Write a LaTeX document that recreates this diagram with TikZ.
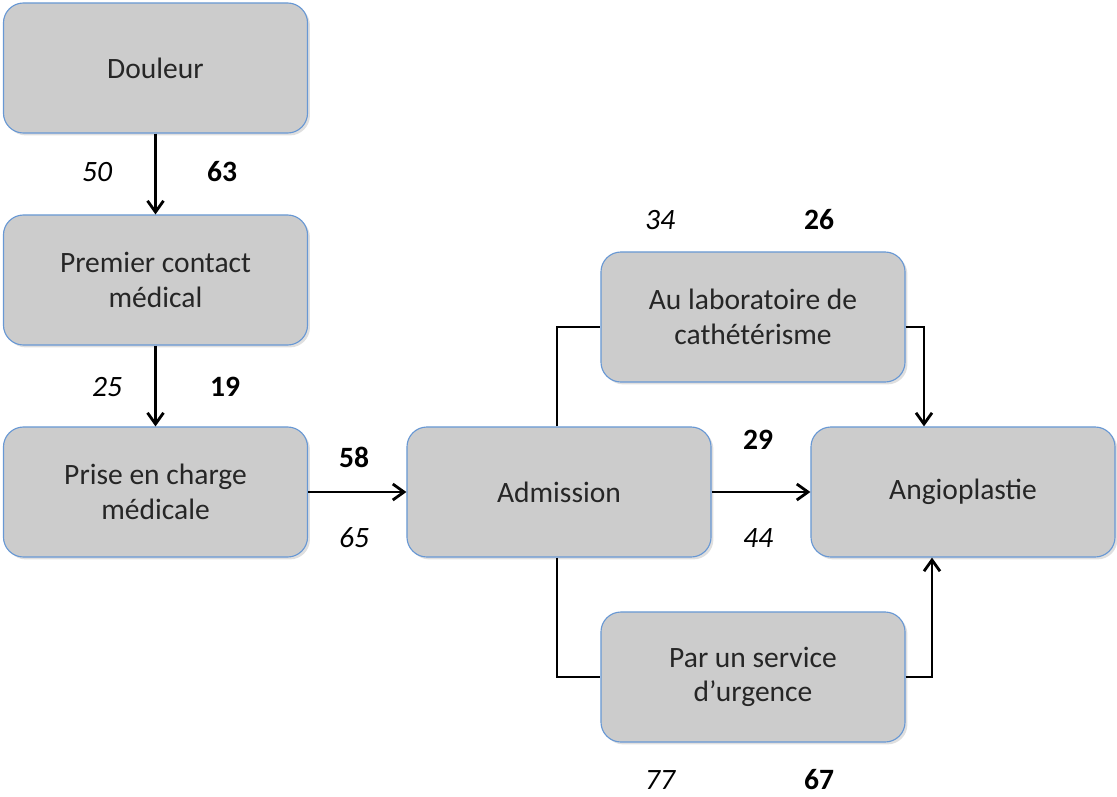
\documentclass[tikz,border=0pt]{standalone}
\usepackage{fontspec}
\setmainfont{Carlito}
\usepackage{tikz}
\usetikzlibrary{positioning}
\usetikzlibrary{shadows}
\usetikzlibrary{arrows.meta}
\definecolor{boxFill}{RGB}{204,204,204}
\definecolor{boxLine}{RGB}{104,152,212}
\definecolor{boxText}{RGB}{38,38,38}

\begin{document}
\begin{tikzpicture}[x=0.025cm,y=-0.025cm]

          \tikzstyle{stageNode} = [draw=boxLine, fill=boxFill, line width=0.8pt, rounded corners=0.5cm,
            minimum width=7.6cm, minimum height=3.25cm, align=center, text=boxText,
            font=\fontsize{21}{24.5}\selectfont,
            drop shadow={opacity=0.25, shadow xshift=0.06cm, shadow yshift=-0.06cm}];
          \tikzstyle{meanNum} = [font=\fontsize{21}{24.5}\selectfont\itshape];
          \tikzstyle{medianNum} = [font=\fontsize{21}{24.5}\selectfont\bfseries];

          \tikzstyle{flowEdge} = [line width=2pt, -{Straight Barb[length=0.28cm,width=0.4cm]}];
          \tikzstyle{plainEdge} = [line width=2pt];

          \useasboundingbox (0,0) rectangle (1117,796);

          \node[stageNode] (douleur) at (155.5,68) {Douleur};
          \node[stageNode] (contact) at (155.5,280) {Premier contact\\médical};
          \node[stageNode] (prise) at (155.5,492) {Prise en charge\\médicale};
          \node[stageNode] (admission) at (559,492) {Admission};
          \node[stageNode] (labo) at (753,317) {Au laboratoire de\\cathétérisme};
          \node[stageNode] (angio) at (963,492) {Angioplastie};
          \node[stageNode] (urgence) at (753,677) {Par un service\\d’urgence};

          \coordinate (laboIn) at (557,327);
          \coordinate (laboOut) at (924,327);
          \coordinate (urgIn) at (557,677);
          \coordinate (urgOut) at (932,677);

          \node[meanNum] (m1) at (97,172) {50};
          \node[medianNum] (d1) at (222,172) {63};
          \node[meanNum] (m2) at (107,387) {25};
          \node[medianNum] (d2) at (225,387) {19};
          \node[medianNum] (d3) at (354,457) {58};
          \node[meanNum] (m3) at (354,538) {65};
          \node[meanNum] (m4) at (660,220) {34};
          \node[medianNum] (d4) at (819,220) {26};
          \node[medianNum] (d5) at (758,440) {29};
          \node[meanNum] (m5) at (758,538) {44};
          \node[meanNum] (m6) at (660,780) {77};
          \node[medianNum] (d6) at (819,780) {67};

          \draw[flowEdge] (douleur) -- (contact);
          \draw[flowEdge] (contact) -- (prise);
          \draw[flowEdge] (prise) -- (admission);
          \draw[flowEdge] (admission) -- (angio);
          \draw[plainEdge] (admission.north -| laboIn) -- (laboIn) -- (laboIn -| labo.west);
          \draw[flowEdge] (laboOut -| labo.east) -- (laboOut) -- (laboOut |- angio.north);
          \draw[plainEdge] (admission.south -| urgIn) -- (urgIn) -- (urgIn -| urgence.west);
          \draw[flowEdge] (urgOut -| urgence.east) -- (urgOut) -- (urgOut |- angio.south);
        \end{tikzpicture}
\end{document}
